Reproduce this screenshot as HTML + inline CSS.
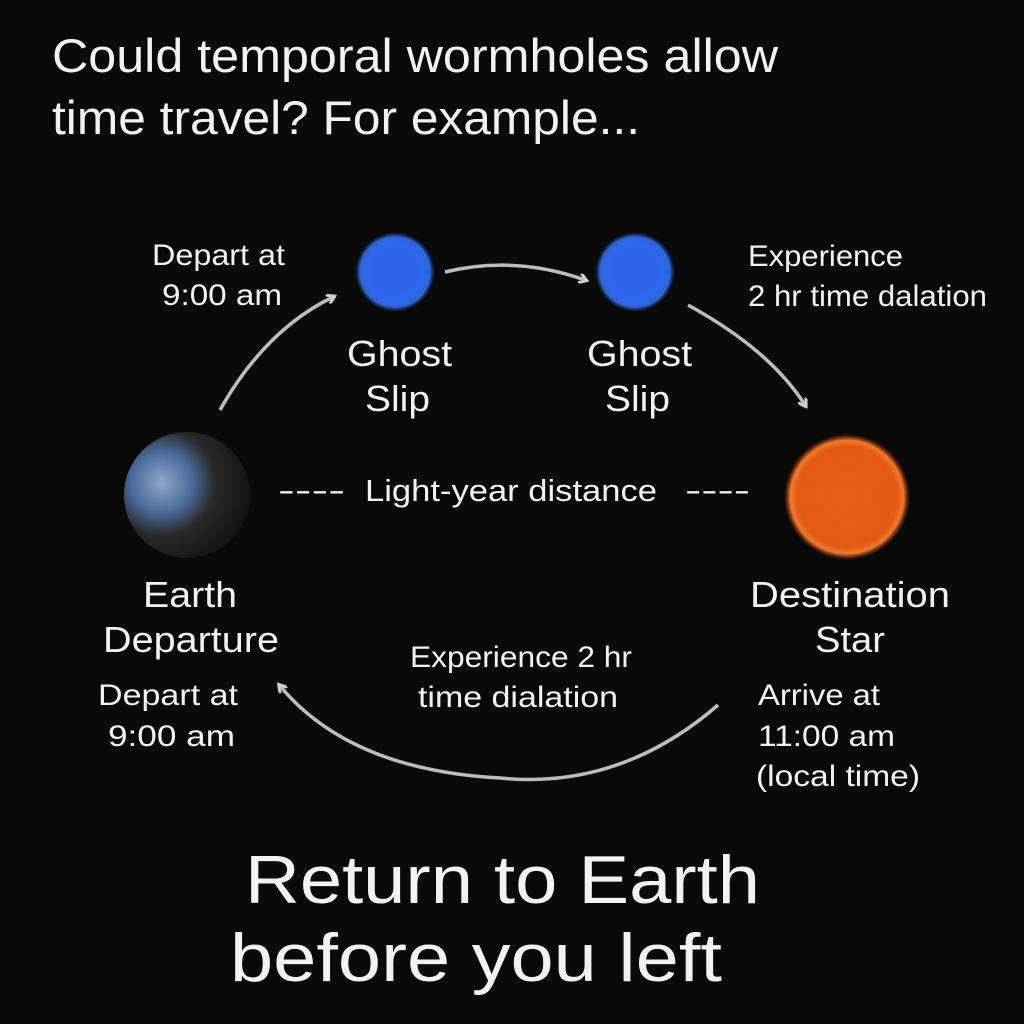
<!DOCTYPE html>
<html><head><meta charset="utf-8">
<style>
html,body{margin:0;padding:0;background:#0a0a0a;width:1024px;height:1024px;overflow:hidden}
svg{display:block}
text{font-family:"Liberation Sans",sans-serif;fill:#f2f2f2}
</style></head>
<body>
<svg width="1024" height="1024" viewBox="0 0 1024 1024">
<defs>
<radialGradient id="blue" cx="50%" cy="50%" r="50%">
<stop offset="0" stop-color="#2d5fe0"/><stop offset="0.7" stop-color="#2e66f0"/><stop offset="0.88" stop-color="#3a7cff" stop-opacity="0.8"/><stop offset="1" stop-color="#1a3aa0" stop-opacity="0"/>
</radialGradient>
<radialGradient id="sun" cx="50%" cy="50%" r="50%">
<stop offset="0" stop-color="#e8601a"/><stop offset="0.8" stop-color="#e25a14"/><stop offset="0.9" stop-color="#f07a30"/><stop offset="1" stop-color="#a03000" stop-opacity="0"/>
</radialGradient>
<radialGradient id="earth" cx="30%" cy="40%" r="70%">
<stop offset="0" stop-color="#8fa7c8"/><stop offset="0.35" stop-color="#4a6a9a"/><stop offset="0.6" stop-color="#2a2a2a"/><stop offset="1" stop-color="#141414"/>
</radialGradient>
<marker id="ah" markerWidth="10" markerHeight="10" refX="6" refY="5" orient="auto" markerUnits="userSpaceOnUse">
<path d="M0,0 L8,5 L0,10" fill="none" stroke="#cfcfcf" stroke-width="3"/>
</marker>
</defs>
<rect width="1024" height="1024" fill="#0a0a0a"/>
<text x="52" y="72" font-size="47" textLength="726" lengthAdjust="spacingAndGlyphs">Could temporal wormholes allow</text>
<text x="52" y="134" font-size="47" textLength="588" lengthAdjust="spacingAndGlyphs">time travel? For example...</text>

<circle cx="395" cy="272" r="40" fill="url(#blue)"/>
<circle cx="635" cy="272" r="40" fill="url(#blue)"/>
<circle cx="187" cy="495" r="63" fill="url(#earth)"/>
<circle cx="847" cy="497" r="63" fill="url(#sun)"/>

<g fill="none" stroke="#bdbdbd" stroke-width="3.5">
<path d="M220,410 Q265,330 333,297" marker-end="url(#ah)"/>
<path d="M445,272 Q515,255 585,280" marker-end="url(#ah)"/>
<path d="M688,305 Q770,350 805,405" marker-end="url(#ah)"/>
<path d="M718,705 Q620,790 500,778 Q350,770 280,686" marker-end="url(#ah)"/>
</g>

<g font-size="30" lengthAdjust="spacingAndGlyphs">
<text x="152" y="265" textLength="133" lengthAdjust="spacingAndGlyphs">Depart at</text>
<text x="162" y="305" textLength="120" lengthAdjust="spacingAndGlyphs">9:00 am</text>
<text x="748" y="266" textLength="155" lengthAdjust="spacingAndGlyphs">Experience</text>
<text x="748" y="306" textLength="239" lengthAdjust="spacingAndGlyphs">2 hr time dalation</text>
<text x="98" y="705" textLength="140" lengthAdjust="spacingAndGlyphs">Depart at</text>
<text x="108" y="746" textLength="127" lengthAdjust="spacingAndGlyphs">9:00 am</text>
<text x="410" y="667" textLength="222" lengthAdjust="spacingAndGlyphs">Experience 2 hr</text>
<text x="418" y="707" textLength="200" lengthAdjust="spacingAndGlyphs">time dialation</text>
<text x="758" y="705" textLength="122" lengthAdjust="spacingAndGlyphs">Arrive at</text>
<text x="758" y="746" textLength="137" lengthAdjust="spacingAndGlyphs">11:00 am</text>
<text x="756" y="786" textLength="164" lengthAdjust="spacingAndGlyphs">(local time)</text>
<text x="365" y="501" font-size="31" textLength="292" lengthAdjust="spacingAndGlyphs">Light-year distance</text>
<text x="278" y="500" textLength="67" lengthAdjust="spacingAndGlyphs" fill="#cfcfcf">----</text>
<text x="685" y="500" textLength="65" lengthAdjust="spacingAndGlyphs" fill="#cfcfcf">----</text>
</g>
<g font-size="36">
<text x="347" y="366" textLength="105" lengthAdjust="spacingAndGlyphs">Ghost</text>
<text x="365" y="411" textLength="65" lengthAdjust="spacingAndGlyphs">Slip</text>
<text x="587" y="366" textLength="105" lengthAdjust="spacingAndGlyphs">Ghost</text>
<text x="605" y="411" textLength="65" lengthAdjust="spacingAndGlyphs">Slip</text>
<text x="143" y="607" textLength="94" lengthAdjust="spacingAndGlyphs">Earth</text>
<text x="103" y="652" textLength="176" lengthAdjust="spacingAndGlyphs">Departure</text>
<text x="750" y="607" textLength="200" lengthAdjust="spacingAndGlyphs">Destination</text>
<text x="815" y="652" textLength="70" lengthAdjust="spacingAndGlyphs">Star</text>
</g>
<text x="245" y="903" font-size="68" textLength="515" lengthAdjust="spacingAndGlyphs">Return to Earth</text>
<text x="230" y="981" font-size="68" textLength="492" lengthAdjust="spacingAndGlyphs">before you left</text>
</svg>
</body></html>
